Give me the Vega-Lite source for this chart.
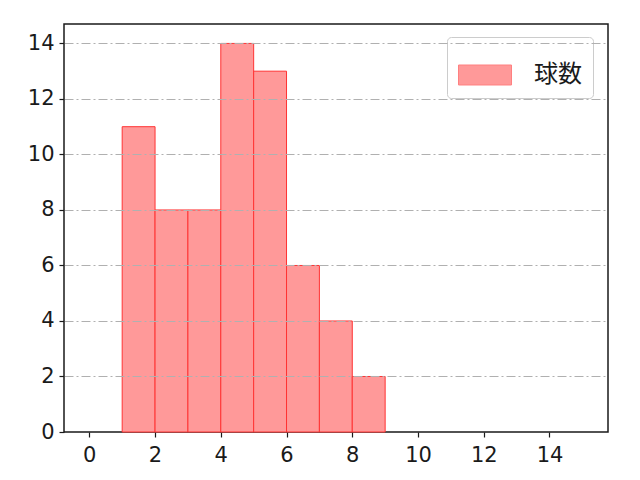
{
  "$schema": "https://vega.github.io/schema/vega-lite/v6.json",
  "autosize": "none",
  "width": 544,
  "height": 408,
  "padding": {"left": 64, "top": 24, "right": 32, "bottom": 48},
  "background": "white",
  "config": {
    "font": "Noto Sans CJK JP",
    "view": {"stroke": "#1a1a1a", "strokeWidth": 1.5},
    "axis": {
      "domain": false,
      "ticks": true,
      "tickColor": "#1a1a1a",
      "tickSize": 5,
      "tickWidth": 1.2,
      "labelColor": "#1a1a1a",
      "labelFontSize": 21,
      "labelFont": "DejaVu Sans",
      "title": null
    }
  },
  "data": {
    "values": [
      {"start": 1, "end": 2, "count": 11, "series": "球数"},
      {"start": 2, "end": 3, "count": 8, "series": "球数"},
      {"start": 3, "end": 4, "count": 8, "series": "球数"},
      {"start": 4, "end": 5, "count": 14, "series": "球数"},
      {"start": 5, "end": 6, "count": 13, "series": "球数"},
      {"start": 6, "end": 7, "count": 6, "series": "球数"},
      {"start": 7, "end": 8, "count": 4, "series": "球数"},
      {"start": 8, "end": 9, "count": 2, "series": "球数"}
    ]
  },
  "mark": {"type": "bar", "stroke": "#ff3333", "strokeWidth": 1, "fillOpacity": 1},
  "encoding": {
    "x": {
      "field": "start",
      "type": "quantitative",
      "scale": {"domain": [-0.77, 15.78], "nice": false, "zero": false},
      "axis": {"values": [0, 2, 4, 6, 8, 10, 12, 14], "grid": false, "labelPadding": 7}
    },
    "x2": {"field": "end"},
    "y": {
      "field": "count",
      "type": "quantitative",
      "scale": {"domain": [0, 14.7], "nice": false},
      "axis": {
        "values": [0, 2, 4, 6, 8, 10, 12, 14],
        "grid": true,
        "gridColor": "#b0b0b0",
        "gridWidth": 1,
        "gridDash": [9, 3, 2, 3],
        "gridOpacity": {"condition": {"test": "datum.value === 0", "value": 0}, "value": 1},
        "zindex": 1,
        "labelPadding": 5
      }
    },
    "y2": {"datum": 0},
    "fill": {
      "field": "series",
      "type": "nominal",
      "scale": {"range": ["#ff9999"]},
      "legend": {
        "title": null,
        "orient": "none",
        "legendX": 383,
        "legendY": 13,
        "symbolType": "M-1,-0.377H1V0.377H-1Z",
        "symbolSize": 2809,
        "symbolStrokeColor": "#ff8080",
        "symbolStrokeWidth": 1,
        "symbolOpacity": 1,
        "labelFontSize": 24,
        "labelFont": "Noto Sans CJK JP",
        "labelColor": "#1a1a1a",
        "labelOffset": 22,
        "padding": 11,
        "strokeColor": "#cccccc",
        "fillColor": "white",
        "cornerRadius": 4
      }
    }
  }
}
